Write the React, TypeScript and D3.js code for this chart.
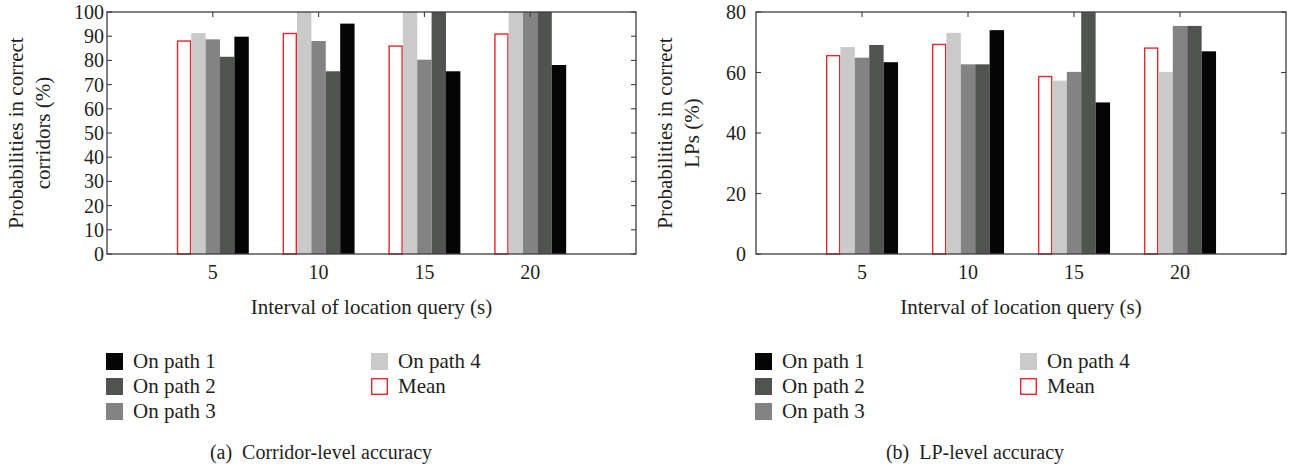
import React, { useEffect, useRef } from 'react';
import * as d3 from 'd3';

// x positions (interval of location query, s)
const intervals = [5, 10, 15, 20];

// draw order inside each group, left to right
const seriesKeys = ['mean', 'path4', 'path3', 'path2', 'path1'];

// (a) corridor-level accuracy, %
const corridorMean = [88.3, 91.4, 86.2, 91.2];
const corridorPath4 = [91.3, 100, 100, 100];
const corridorPath3 = [88.7, 88.0, 80.3, 100];
const corridorPath2 = [81.5, 75.5, 100, 100];
const corridorPath1 = [89.8, 95.2, 75.5, 78.1];
const corridorTicks = [0, 10, 20, 30, 40, 50, 60, 70, 80, 90, 100];

// (b) LP-level accuracy, %
const lpMean = [65.8, 69.5, 58.9, 68.3];
const lpPath4 = [68.4, 73.1, 57.3, 60.2];
const lpPath3 = [64.9, 62.7, 60.2, 75.4];
const lpPath2 = [69.1, 62.7, 80, 75.4];
const lpPath1 = [63.4, 74.0, 50.1, 67.0];
const lpTicks = [0, 20, 40, 60, 80];

const legendCol1 = [
  { key: 'path1', label: 'On path 1' },
  { key: 'path2', label: 'On path 2' },
  { key: 'path3', label: 'On path 3' },
];
const legendCol2 = [
  { key: 'path4', label: 'On path 4' },
  { key: 'mean', label: 'Mean' },
];

const fills = { mean: '#ffffff', path4: '#cacaca', path3: '#838383', path2: '#515351', path1: '#040504' };
const RED = '#e8262c';
const INK = '#231f20';
const FONT = '"Liberation Serif", "Times New Roman", serif';

const Panel = ({ series, yMax, yTicks, yLabel, caption, left, right, captionX }) => {
  const gRef = useRef();

  useEffect(() => {
    const g = d3.select(gRef.current);
    g.selectAll('*').remove();

    const top = 12, bottom = 254;

    const x = d3.scaleLinear().domain([0, 25]).range([left, right]);
    const y = d3.scaleLinear().domain([0, yMax]).range([bottom, top]);
    // offset of each series inside a group, in x units
    const inner = d3.scaleBand().domain(seriesKeys).range([-1.7, 1.7]).padding(0);

    // bars
    intervals.forEach((iv, i) => {
      seriesKeys.forEach(k => {
        const v = Math.min(series[k][i], yMax);
        const x0 = x(iv + inner(k));
        const w = x(iv + inner(k) + inner.bandwidth()) - x0;
        const isMean = k === 'mean';
        g.append('rect')
          .attr('x', isMean ? x0 + 0.7 : x0)
          .attr('y', y(v) + (isMean ? 0.7 : 0))
          .attr('width', isMean ? w - 1.4 : w)
          .attr('height', y(0) - y(v) - (isMean ? 0.7 : 0))
          .attr('fill', fills[k])
          .attr('stroke', isMean ? RED : 'none')
          .attr('stroke-width', 1.4);
      });
    });

    // frame + inward ticks
    const frameColor = '#3c3c3c';
    g.append('rect')
      .attr('x', left).attr('y', top)
      .attr('width', right - left).attr('height', bottom - top)
      .attr('fill', 'none').attr('stroke', frameColor).attr('stroke-width', 1.3);

    yTicks.forEach(t => {
      g.append('line').attr('x1', left).attr('x2', left + 5).attr('y1', y(t)).attr('y2', y(t))
        .attr('stroke', frameColor).attr('stroke-width', 1.1);
      g.append('line').attr('x1', right - 5).attr('x2', right).attr('y1', y(t)).attr('y2', y(t))
        .attr('stroke', frameColor).attr('stroke-width', 1.1);
      g.append('text')
        .attr('x', left - 3 - (yMax === 80 ? 7 : 0))
        .attr('y', y(t))
        .attr('dy', '0.35em')
        .attr('text-anchor', 'end')
        .attr('font-size', 20)
        .attr('fill', INK)
        .text(t);
    });

    intervals.forEach(t => {
      g.append('line').attr('x1', x(t)).attr('x2', x(t)).attr('y1', top).attr('y2', top + 5)
        .attr('stroke', frameColor).attr('stroke-width', 1.1);
      g.append('text')
        .attr('x', x(t))
        .attr('y', 279)
        .attr('text-anchor', 'middle')
        .attr('font-size', 20)
        .attr('fill', INK)
        .text(t);
    });

    // axis titles
    g.append('text')
      .attr('x', (left + right) / 2)
      .attr('y', 314)
      .attr('text-anchor', 'middle')
      .attr('font-size', 21)
      .attr('fill', INK)
      .text('Interval of location query (s)');

    const yl = g.append('text')
      .attr('transform', `translate(${left - 84},${(top + bottom) / 2}) rotate(-90)`)
      .attr('text-anchor', 'middle')
      .attr('font-size', 21)
      .attr('fill', INK);
    yLabel.forEach((line, i) => {
      yl.append('tspan').attr('x', 0).attr('y', i * 27).text(line);
    });

    // legend
    const rowTop = [353, 378, 403];
    const drawLegend = (items, colX) => {
      items.forEach((it, i) => {
        const isMean = it.key === 'mean';
        g.append('rect')
          .attr('x', colX + (isMean ? 0.7 : 0))
          .attr('y', rowTop[i] + (isMean ? 0.7 : 0))
          .attr('width', isMean ? 15.6 : 17)
          .attr('height', isMean ? 15.6 : 17)
          .attr('fill', fills[it.key])
          .attr('stroke', isMean ? RED : 'none')
          .attr('stroke-width', 1.4);
        g.append('text')
          .attr('x', colX + 27)
          .attr('y', rowTop[i] + 15)
          .attr('font-size', 21)
          .attr('fill', INK)
          .text(it.label);
      });
    };
    drawLegend(legendCol1, left - 1);
    drawLegend(legendCol2, left + 264);

    // caption
    g.append('text')
      .attr('x', captionX)
      .attr('y', 459)
      .attr('text-anchor', 'middle')
      .attr('font-size', 20)
      .attr('fill', INK)
      .style('white-space', 'pre')
      .text(caption);
  }, [series, yMax, yTicks, yLabel, caption, left, right, captionX]);

  return <g ref={gRef} fontFamily={FONT} />;
};

const corridorSeries = { mean: corridorMean, path4: corridorPath4, path3: corridorPath3, path2: corridorPath2, path1: corridorPath1 };
const lpSeries = { mean: lpMean, path4: lpPath4, path3: lpPath3, path2: lpPath2, path1: lpPath1 };

export default function App() {
  return (
    <svg width={1301} height={468} style={{ position: 'absolute', left: 0, top: 0, background: '#fff' }}>
      <rect width={1301} height={468} fill="#fff" />
      <Panel
        series={corridorSeries}
        yMax={100}
        yTicks={corridorTicks}
        yLabel={['Probabilities in correct', 'corridors (%)']}
        caption="(a)  Corridor-level accuracy"
        left={107}
        right={636}
        captionX={321}
      />
      <Panel
        series={lpSeries}
        yMax={80}
        yTicks={lpTicks}
        yLabel={['Probabilities in correct', 'LPs (%)']}
        caption="(b)  LP-level accuracy"
        left={756}
        right={1286}
        captionX={975}
      />
    </svg>
  );
}
